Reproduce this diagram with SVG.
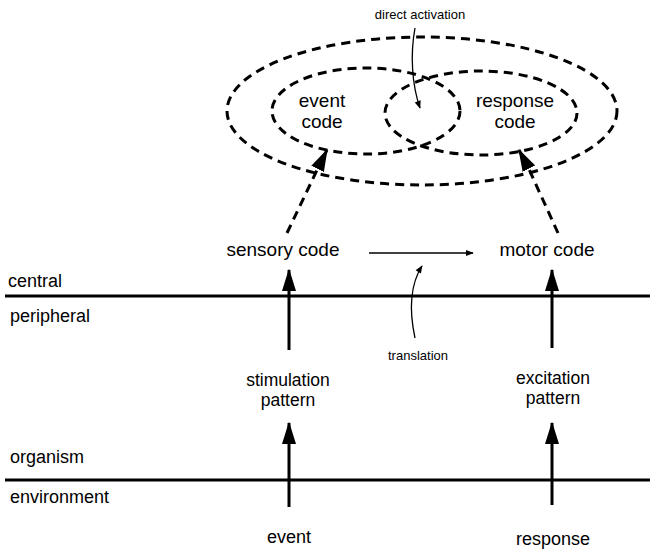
<svg xmlns="http://www.w3.org/2000/svg" width="650" height="550" viewBox="0 0 650 550">
<style>
text{font-family:"Liberation Sans",Arial,sans-serif;fill:#000}
.lbl{font-size:19px;text-anchor:middle}
.side{font-size:18px}
.mid{font-size:17.5px;text-anchor:middle}
.small{font-size:13px;text-anchor:middle}
.dash{fill:none;stroke:#000;stroke-width:3;stroke-dasharray:9 6}
.thick{stroke:#000;stroke-width:3;fill:none}
.thin{stroke:#000;stroke-width:1.3;fill:none}
</style>
<defs>
<marker id="big" viewBox="0 0 16 10" refX="15" refY="5" markerWidth="7.5" markerHeight="4.7" markerUnits="strokeWidth" orient="auto">
<path d="M0,0 L16,5 L0,10 z" fill="#000"/>
</marker>
<marker id="sm" viewBox="0 0 10 10" refX="9" refY="5" markerWidth="7" markerHeight="6" markerUnits="strokeWidth" orient="auto">
<path d="M0,1 L10,5 L0,9 z" fill="#000"/>
</marker>
</defs>
<g id="boundaries">
<line x1="5" y1="296" x2="650" y2="296" class="thick"/>
<line x1="5" y1="480" x2="650" y2="480" class="thick"/>
<text class="side" x="8" y="287">central</text>
<text class="side" x="10" y="322">peripheral</text>
<text class="side" x="10" y="463">organism</text>
<text class="side" x="10" y="503">environment</text>
</g>
<g id="codes">
<ellipse cx="422" cy="111" rx="195" ry="74" class="dash"/>
<ellipse cx="366" cy="111" rx="94" ry="43" class="dash"/>
<ellipse cx="481" cy="113" rx="96" ry="42" class="dash"/>
</g>
<g id="event-code"><text class="lbl" x="322" y="107">event</text><text class="lbl" x="322" y="128">code</text></g>
<g id="response-code"><text class="lbl" x="515" y="107">response</text><text class="lbl" x="515" y="128">code</text></g>
<g id="direct-activation"><text class="small" x="420" y="19">direct activation</text></g>
<g id="sensory-code"><text class="lbl" x="283" y="256">sensory code</text></g>
<g id="motor-code"><text class="lbl" x="547" y="256">motor code</text></g>
<g id="translation"><text class="small" x="418" y="360">translation</text></g>
<g id="stimulation-pattern"><text class="mid" x="288" y="386">stimulation</text><text class="mid" x="288" y="406">pattern</text></g>
<g id="excitation-pattern"><text class="mid" x="553" y="384">excitation</text><text class="mid" x="553" y="404">pattern</text></g>
<g id="event"><text class="side" text-anchor="middle" x="289" y="543">event</text></g>
<g id="response"><text class="side" text-anchor="middle" x="553" y="545">response</text></g>
<g id="connectors">
<line x1="289" y1="350" x2="289" y2="270" class="thick" marker-end="url(#big)"/>
<line x1="289" y1="507" x2="289" y2="423" class="thick" marker-end="url(#big)"/>
<line x1="552" y1="348" x2="552" y2="270" class="thick" marker-end="url(#big)"/>
<line x1="552" y1="505" x2="552" y2="423" class="thick" marker-end="url(#big)"/>
<line x1="287" y1="233" x2="318" y2="168" class="dash" stroke-dasharray="8 6"/>
<line x1="318" y1="168" x2="327" y2="150" class="thick" marker-end="url(#big)"/>
<line x1="558" y1="233" x2="528" y2="167" class="dash" stroke-dasharray="8 6"/>
<line x1="528" y1="167" x2="519" y2="150" class="thick" marker-end="url(#big)"/>
<line x1="369" y1="253" x2="473" y2="253" class="thin" marker-end="url(#sm)"/>
<path d="M415,338 C409,310 410,285 422,266" class="thin" marker-end="url(#sm)"/>
<path d="M415,28 C410,55 412,85 420,108" class="thin" marker-end="url(#sm)"/>
</g>
</svg>
